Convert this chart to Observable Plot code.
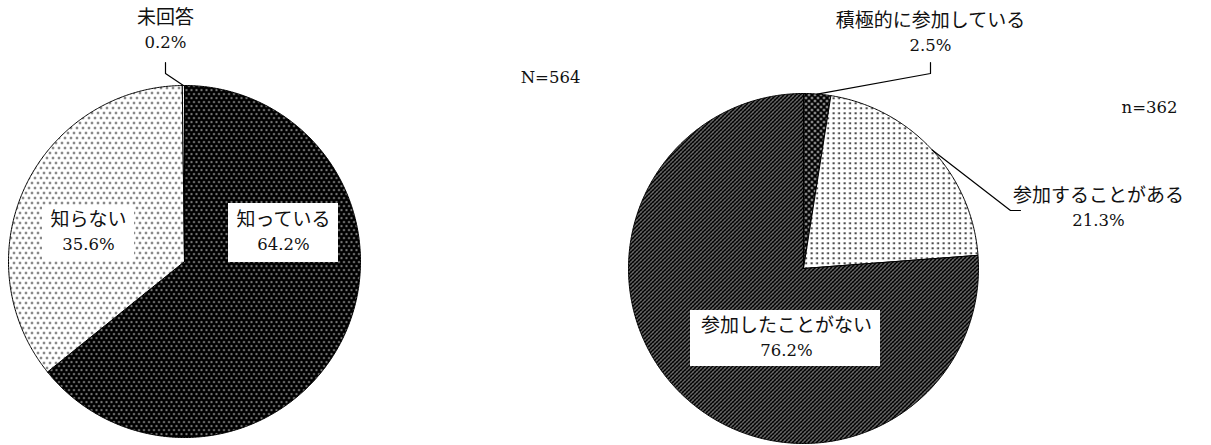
<!DOCTYPE html>
<html><head><meta charset="utf-8">
<script src="https://cdn.jsdelivr.net/npm/d3@7"></script>
<script src="https://cdn.jsdelivr.net/npm/@observablehq/plot@0.6"></script>
<style>
html,body{margin:0;padding:0;background:#fff;}
#chart svg{display:block;}
</style>
</head><body>
<svg width="0" height="0" style="position:absolute">
<defs>
<pattern id="pBlackDots" patternUnits="userSpaceOnUse" width="5" height="8">
<rect width="5" height="8" fill="#000"/>
<circle cx="1" cy="1.5" r="0.85" fill="#fff"/>
<circle cx="3.5" cy="5.5" r="0.85" fill="#fff"/>
</pattern>
<pattern id="pBlackDots2" patternUnits="userSpaceOnUse" width="6" height="6">
<rect width="6" height="6" fill="#000"/>
<circle cx="1.5" cy="1.5" r="1.1" fill="#fff"/>
<circle cx="4.5" cy="4.5" r="1.1" fill="#fff"/>
</pattern>
<pattern id="pWhiteDots" patternUnits="userSpaceOnUse" width="6" height="10">
<rect width="6" height="10" fill="#fff"/>
<circle cx="1.5" cy="2.5" r="0.95" fill="#000"/>
<circle cx="4.5" cy="7.5" r="0.95" fill="#000"/>
</pattern>
<pattern id="pDashes" patternUnits="userSpaceOnUse" width="5.5" height="5">
<rect width="5.5" height="5" fill="#fff"/>
<rect x="1.5" y="2" width="2.2" height="1.4" fill="#000"/>
</pattern>
<pattern id="pHatch" patternUnits="userSpaceOnUse" width="4" height="4">
<rect width="4" height="4" fill="#000"/>
<path d="M0,4 L4,0 M-1,1 L1,-1 M3,5 L5,3" stroke="#fff" stroke-width="1" stroke-dasharray="2.2,0.8"/>
</pattern>
</defs>
</svg>
<div id="chart"></div>
<script>
// ---- data ----
const leftLabels = ["知っている", "知らない", "未回答"];
const leftValues = [64.2, 35.6, 0.2];
const leftN = "N=564";
const rightLabels = ["積極的に参加している", "参加することがある", "参加したことがない"];
const rightValues = [2.5, 21.3, 76.2];
const rightN = "n=362";

// ---- layout ----
const W = 1211, H = 445;
const JFONT = "'Noto Sans CJK JP', sans-serif";
const NFONT = "'DejaVu Serif', 'Liberation Serif', serif";
const JFS = 19, NFS = 16.5;
const patterns = {
  "知っている": "url(#pBlackDots)",
  "知らない": "url(#pWhiteDots)",
  "未回答": "url(#pWhiteDots)",
  "積極的に参加している": "url(#pBlackDots2)",
  "参加することがある": "url(#pDashes)",
  "参加したことがない": "url(#pHatch)"
};
const pies = [
  {labels: leftLabels, values: leftValues, cx: 184, cy: 261, r: 176,
   place: [
     {x: 283, y: 232, box: [228, 338, 203, 262]},
     {x: 88, y: 232, box: [42, 134, 205, 260]},
     {x: 165, y: 30, leader: [[165, 73], [165, 62]]}
   ]},
  {labels: rightLabels, values: rightValues, cx: 803, cy: 268, r: 175,
   place: [
     {x: 930, y: 33, leader: [[930, 73], [930, 62]]},
     {x: 1098, y: 208, leader: [[1010, 210], [1020, 210]]},
     {x: 786, y: 338, box: [690, 880, 310, 366]}
   ]}
];

function slicesFor(p) {
  const arcs = d3.pie().sort(null).value(d => d)(p.values);
  return arcs.map((a, i) => {
    const pts = [[p.cx, p.cy]];
    const n = Math.max(2, Math.ceil((a.endAngle - a.startAngle) / (Math.PI / 360)));
    for (let k = 0; k <= n; k++) {
      const t = a.startAngle + (a.endAngle - a.startAngle) * k / n;
      pts.push([p.cx + p.r * Math.sin(t), p.cy - p.r * Math.cos(t)]);
    }
    pts.push([p.cx, p.cy]);
    const mid = (a.startAngle + a.endAngle) / 2;
    return {label: p.labels[i], value: p.values[i], pts,
            edge: [p.cx + p.r * Math.sin(mid), p.cy - p.r * Math.cos(mid)], place: p.place[i]};
  });
}

const marks = [];
for (const p of pies) {
  const slices = slicesFor(p);
  for (const s of slices) {
    marks.push(Plot.line(s.pts, {x: d => d[0], y: d => d[1], fill: patterns[s.label],
      stroke: "#000", strokeWidth: 1, strokeLinejoin: "round"}));
  }
  for (const s of slices) {
    const pl = s.place;
    if (pl.box) {
      marks.push(Plot.rect([pl.box], {x1: d => d[0], x2: d => d[1], y1: d => d[2], y2: d => d[3], fill: "#fff"}));
    }
    if (pl.leader) {
      marks.push(Plot.line([s.edge, ...pl.leader], {x: d => d[0], y: d => d[1], stroke: "#000", strokeWidth: 1.2}));
    }
    marks.push(Plot.text([s], {x: () => pl.x, y: () => pl.y - 12.5, text: d => d.label,
      fontSize: JFS, fontFamily: JFONT, fill: "#111"}));
    marks.push(Plot.text([s], {x: () => pl.x, y: () => pl.y + 12.5, text: d => `${d.value.toFixed(1)}%`,
      fontSize: NFS, fontFamily: NFONT, fill: "#111"}));
  }
}
marks.push(Plot.text([leftN], {x: () => 550, y: () => 77, text: d => d, fontSize: NFS, fontFamily: NFONT, fill: "#111"}));
marks.push(Plot.text([rightN], {x: () => 1149, y: () => 107, text: d => d, fontSize: NFS, fontFamily: NFONT, fill: "#111"}));

const chart = Plot.plot({
  width: W, height: H, margin: 0,
  x: {domain: [0, W], range: [0, W], axis: null},
  y: {domain: [0, H], range: [0, H], axis: null},
  style: {background: "#fff"},
  marks
});
document.getElementById("chart").appendChild(chart);
</script>
</body></html>
